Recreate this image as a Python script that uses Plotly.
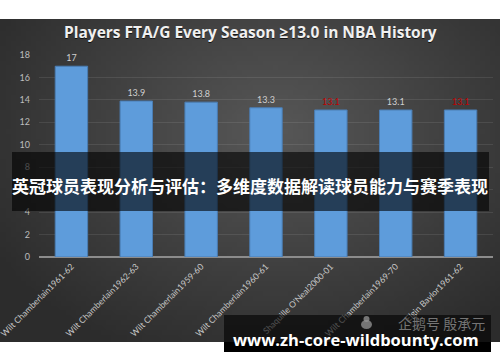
import base64, struct, zlib
import plotly.graph_objects as go

# ---- data ----
players = ["Wilt Chamberlain1961-62", "Wilt Chamberlain1962-63", "Wilt Chamberlain1959-60",
           "Wilt Chamberlain1960-61", "Shaquille O'Neal2000-01", "Wilt Chamberlain1969-70",
           "Elgin Baylor1961-62"]
fta_per_game = [17, 13.9, 13.8, 13.3, 13.1, 13.1, 13.1]
label_colors = ["#d0d0d0", "#d0d0d0", "#d0d0d0", "#d0d0d0", "#c00000", "#d0d0d0", "#c00000"]
y_ticks = [0, 2, 4, 6, 8, 10, 12, 14, 16, 18]
title_text = "Players FTA/G Every Season ≥13.0 in NBA History"
banner_text = "英冠球员表现分析与评估：多维度数据解读球员能力与赛季表现"
url_text = "www.zh-core-wildbounty.com"
watermark_text = "企鹅号 殷承元"

W, H = 500, 362
ML, MR, MT, MB = 39, 7, 55, 105
PW, PH = W - ML - MR, H - MT - MB

def px(x):
    return (x - ML) / PW

def py(y):
    return (H - MB - y) / PH

# ---- radial gradient background image (PNG, pure python) ----
def make_png(w, h, fn):
    raw = b""
    for j in range(h):
        row = b"\x00"
        for i in range(w):
            r, g, b = fn(i / (w - 1), j / (h - 1))
            row += bytes((r, g, b))
        raw += row
    def chunk(t, d):
        c = struct.pack(">I", len(d)) + t + d
        return c + struct.pack(">I", zlib.crc32(t + d) & 0xffffffff)
    png = b"\x89PNG\r\n\x1a\n" + chunk(b"IHDR", struct.pack(">IIBBBBB", w, h, 8, 2, 0, 0, 0))
    png += chunk(b"IDAT", zlib.compress(raw, 9)) + chunk(b"IEND", b"")
    return "data:image/png;base64," + base64.b64encode(png).decode()

def grad(u, v):
    cx, cy = 0.55, 0.35
    d = ((u - cx) ** 2 / 0.36 + (v - cy) ** 2 / 0.5) ** 0.5
    d = min(d / 1.1, 1.0)
    c0, c1 = 0x58, 0x2c
    c = int(c0 + (c1 - c0) * d)
    return c, c, c

bg_src = make_png(100, 66, grad)

fig = go.Figure()
fig.add_trace(go.Bar(
    x=players, y=fta_per_game, width=0.5,
    marker=dict(color="#5e9cdb", line=dict(color="#4a7db3", width=1)),
    text=[str(v) for v in fta_per_game], textposition="outside",
    textfont=dict(color=label_colors, size=9, family="Lato"),
    cliponaxis=False, hoverinfo="skip",
))

wm_col = "rgba(150,150,150,0.75)"
fig.update_layout(
    width=W, height=H,
    margin=dict(l=ML, r=MR, t=MT, b=MB, autoexpand=False),
    paper_bgcolor="white", plot_bgcolor="rgba(0,0,0,0)",
    showlegend=False,
    xaxis=dict(tickangle=-45, tickfont=dict(color="#c8c8c8", size=8.6, family="Lato"),
               range=[-0.5, len(players) - 0.5], automargin=False,
               showgrid=False, showline=False, ticks="", fixedrange=True, ticklabelstandoff=2),
    yaxis=dict(range=[0, 18], tickvals=y_ticks, tickfont=dict(color="#bdbdbd", size=9, family="Lato"),
               gridcolor="rgba(255,255,255,0.09)", gridwidth=1, automargin=False,
               zeroline=True, zerolinecolor="#8c8c8c", zerolinewidth=1.5,
               showline=False, ticks="", ticklabelstandoff=8),
    images=[dict(source=bg_src, xref="paper", yref="paper", x=px(-2), y=py(19),
                 sizex=(W + 4) / PW, sizey=(342 - 19) / PH, sizing="stretch",
                 xanchor="left", yanchor="top", layer="below")],
    shapes=[
        dict(type="rect", xref="paper", yref="paper", x0=px(12), x1=px(489), y0=py(152), y1=py(211),
             fillcolor="rgba(0,0,0,0.6)", line=dict(width=0), layer="above"),
        dict(type="rect", xref="paper", yref="paper", x0=px(224), x1=px(491), y0=py(315), y1=py(342),
             fillcolor="rgba(0,0,0,0.6)", line=dict(width=0), layer="above"),
        dict(type="rect", xref="paper", yref="paper", x0=px(224), x1=px(491), y0=py(342), y1=py(352),
             fillcolor="#000000", line=dict(width=0), layer="above"),
        # penguin icon of the watermark
        dict(type="circle", xref="paper", yref="paper", x0=px(363.5), x1=px(369.5), y0=py(316), y1=py(322),
             fillcolor=wm_col, line=dict(width=0), layer="above"),
        dict(type="circle", xref="paper", yref="paper", x0=px(361), x1=px(372), y0=py(320), y1=py(329),
             fillcolor=wm_col, line=dict(width=0), layer="above"),
    ],
)

ann = []
# title with shadow
ann.append(dict(text="<b>" + title_text + "</b>", xref="paper", yref="paper", x=px(250.8), y=py(33.2),
                xanchor="center", yanchor="middle", showarrow=False,
                font=dict(size=15.5, color="rgba(0,0,0,0.7)", family="Open Sans")))
ann.append(dict(text="<b>" + title_text + "</b>", xref="paper", yref="paper", x=px(250), y=py(32.5),
                xanchor="center", yanchor="middle", showarrow=False,
                font=dict(size=15.5, color="#f0f0f0", family="Open Sans")))
# banner
ann.append(dict(text="<b>" + banner_text + "</b>", xref="paper", yref="paper", x=px(250), y=py(185),
                xanchor="center", yanchor="middle", showarrow=False,
                font=dict(size=17, color="#ffffff", family="Noto Sans CJK SC")))
# watermark
ann.append(dict(text=watermark_text, xref="paper", yref="paper", x=px(487), y=py(323),
                xanchor="right", yanchor="middle", showarrow=False,
                font=dict(size=14, color=wm_col, family="Noto Sans CJK SC")))
# url
ann.append(dict(text="<b>" + url_text + "</b>", xref="paper", yref="paper", x=px(356), y=py(339),
                xanchor="center", yanchor="middle", showarrow=False,
                font=dict(size=16.5, color="#ffffff", family="Open Sans")))
fig.update_layout(annotations=ann)

fig.write_html("out.html")
